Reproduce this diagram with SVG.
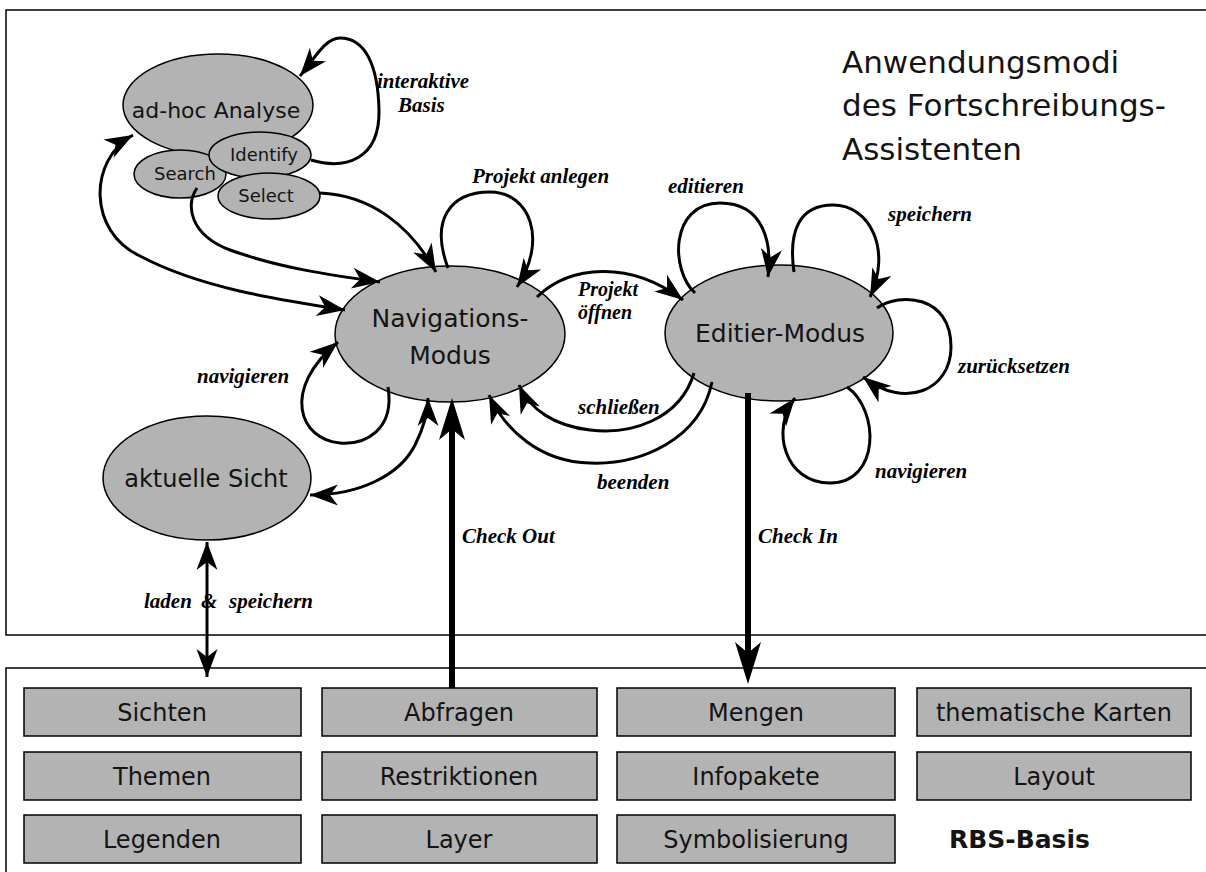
<svg xmlns="http://www.w3.org/2000/svg" width="1206" height="872" viewBox="0 0 1206 872">
<style>
.frame{fill:#fff;stroke:#000;stroke-width:1.5}
.ell{fill:#b3b3b3;stroke:#000;stroke-width:1.5}
.box{fill:#b3b3b3;stroke:#000;stroke-width:1.5}
.sans{font-family:"DejaVu Sans","Liberation Sans",sans-serif;fill:#141414}
.mid{text-anchor:middle}
.lbl{font-family:"Liberation Serif","Times New Roman",serif;font-weight:bold;font-style:italic;font-size:21px;fill:#000}
.conn{fill:none;stroke:#000;stroke-width:3}
.thick{stroke-width:6}
</style>
<defs>
<marker id="ah" viewBox="-30 -12 32 24" refX="0" refY="0" markerWidth="32" markerHeight="24" markerUnits="userSpaceOnUse" orient="auto-start-reverse">
<path d="M0,0 L-28,-10.5 L-20,0 L-28,10.5 Z" fill="#000"/>
</marker>
<marker id="ahBig" viewBox="-44 -15 46 30" refX="-28" refY="0" markerWidth="46" markerHeight="30" markerUnits="userSpaceOnUse" orient="auto">
<path d="M0,0 L-42,-13 L-31,0 L-42,13 Z" fill="#000"/>
</marker>
</defs>
<rect width="1206" height="872" fill="#fff"/>
<g id="frames">
<rect class="frame" x="6" y="10" width="1210" height="625"/>
<rect class="frame" x="6" y="668" width="1210" height="220"/>
</g>
<g id="title">
<text class="sans" font-size="31" x="842" y="73">Anwendungsmodi</text>
<text class="sans" font-size="31" x="842" y="116">des Fortschreibungs-</text>
<text class="sans" font-size="31" x="842" y="160">Assistenten</text>
</g>
<g id="adhoc">
<ellipse class="ell" cx="218" cy="105" rx="95" ry="51"/>
<text class="sans mid" font-size="22" x="216" y="118">ad-hoc Analyse</text>
</g>
<g id="search">
<ellipse class="ell" cx="180" cy="174" rx="46" ry="24"/>
<text class="sans mid" font-size="18" x="185" y="180">Search</text>
</g>
<g id="identify">
<ellipse class="ell" cx="260" cy="155" rx="51" ry="23"/>
<text class="sans mid" font-size="18" x="264" y="161">Identify</text>
</g>
<g id="select">
<ellipse class="ell" cx="269" cy="196" rx="51" ry="23"/>
<text class="sans mid" font-size="18" x="266" y="202">Select</text>
</g>
<g id="navigation">
<ellipse class="ell" cx="450" cy="334" rx="115" ry="68"/>
<text class="sans mid" font-size="25" x="450" y="327">Navigations-</text>
<text class="sans mid" font-size="25" x="450" y="364">Modus</text>
</g>
<g id="editier">
<ellipse class="ell" cx="779" cy="333" rx="114" ry="68"/>
<text class="sans mid" font-size="25" x="780" y="342">Editier-Modus</text>
</g>
<g id="aktuelle">
<ellipse class="ell" cx="207" cy="478" rx="104" ry="62"/>
<text class="sans mid" font-size="24" x="206" y="487">aktuelle Sicht</text>
</g>
<g id="connectors">
<path class="conn" d="M311,160 C345,170 380,160 379,110 C378,65 365,38 340,38 C325,38 315,58 300,76" marker-end="url(#ah)"/>
<path class="conn" d="M133,135 C88,160 88,232 140,256 C200,288 280,300 345,310" marker-start="url(#ah)" marker-end="url(#ah)"/>
<path class="conn" d="M197,188 C185,205 190,235 230,250 C280,268 330,275 380,282" marker-end="url(#ah)"/>
<path class="conn" d="M320,193 C370,195 410,225 436,272" marker-end="url(#ah)"/>
<path class="conn" d="M448,268 C430,220 450,192 490,192 C530,192 548,240 517,287" marker-end="url(#ah)"/>
<path class="conn" d="M537,297 C570,265 630,260 683,300" marker-end="url(#ah)"/>
<path class="conn" d="M695,293 C670,270 670,203 720,203 C765,203 772,245 768,277" marker-end="url(#ah)"/>
<path class="conn" d="M794,272 C788,230 800,205 833,205 C870,205 892,250 870,297" marker-end="url(#ah)"/>
<path class="conn" d="M877,308 C900,292 951,295 951,347 C951,390 905,410 863,377" marker-end="url(#ah)"/>
<path class="conn" d="M847,387 C880,410 880,483 830,483 C785,483 770,430 795,398" marker-end="url(#ah)"/>
<path class="conn" d="M388,387 C395,430 365,445 340,443 C300,440 280,390 338,342" marker-end="url(#ah)"/>
<path class="conn" d="M310,495 C360,495 400,475 415,445 C425,425 428,410 428,398" marker-start="url(#ah)" marker-end="url(#ah)"/>
<path class="conn" d="M694,373 C680,420 630,435 590,430 C555,426 530,410 519,385" marker-end="url(#ah)"/>
<path class="conn" d="M712,382 C700,440 640,465 590,463 C540,462 505,430 489,395" marker-end="url(#ah)"/>
<path class="conn" d="M207,542 L207,677" marker-start="url(#ah)" marker-end="url(#ah)"/>
<path class="conn thick" d="M452,688 L452,426" marker-end="url(#ahBig)"/>
<path class="conn thick" d="M748,393 L748,656" marker-end="url(#ahBig)"/>
</g>
<g id="labels">
<text class="lbl" x="377" y="88">interaktive</text>
<text class="lbl" x="398" y="112">Basis</text>
<text class="lbl" x="472" y="183">Projekt anlegen</text>
<text class="lbl" x="668" y="193">editieren</text>
<text class="lbl" x="888" y="221">speichern</text>
<text class="lbl" x="578" y="296" fill="#1c1c3c" style="font-size:20px">Projekt</text>
<text class="lbl" x="578" y="319" fill="#1c1c3c" style="font-size:20px">öffnen</text>
<text class="lbl" x="958" y="373">zurücksetzen</text>
<text class="lbl" x="197" y="383">navigieren</text>
<text class="lbl" x="578" y="414">schließen</text>
<text class="lbl" x="875" y="478">navigieren</text>
<text class="lbl" x="597" y="489">beenden</text>
<text class="lbl" x="462" y="543">Check Out</text>
<text class="lbl" x="758" y="543">Check In</text>
<text class="lbl" y="608"><tspan x="144">laden </tspan><tspan x="201">&amp; </tspan><tspan x="229">speichern</tspan></text>
</g>
<g id="rbs-boxes">
<g id="box-sichten"><rect class="box" x="24" y="688" width="277" height="48"/><text class="sans mid" font-size="24" x="162" y="721">Sichten</text></g>
<g id="box-abfragen"><rect class="box" x="322" y="688" width="275" height="48"/><text class="sans mid" font-size="24" x="459" y="721">Abfragen</text></g>
<g id="box-mengen"><rect class="box" x="617" y="688" width="278" height="48"/><text class="sans mid" font-size="24" x="756" y="721">Mengen</text></g>
<g id="box-karten"><rect class="box" x="917" y="688" width="274" height="48"/><text class="sans mid" font-size="24" x="1054" y="721">thematische Karten</text></g>
<g id="box-themen"><rect class="box" x="24" y="752" width="277" height="48"/><text class="sans mid" font-size="24" x="162" y="785">Themen</text></g>
<g id="box-restriktionen"><rect class="box" x="322" y="752" width="275" height="48"/><text class="sans mid" font-size="24" x="459" y="785">Restriktionen</text></g>
<g id="box-infopakete"><rect class="box" x="617" y="752" width="278" height="48"/><text class="sans mid" font-size="24" x="756" y="785">Infopakete</text></g>
<g id="box-layout"><rect class="box" x="917" y="752" width="274" height="48"/><text class="sans mid" font-size="24" x="1054" y="785">Layout</text></g>
<g id="box-legenden"><rect class="box" x="24" y="815" width="277" height="48"/><text class="sans mid" font-size="24" x="162" y="848">Legenden</text></g>
<g id="box-layer"><rect class="box" x="322" y="815" width="275" height="48"/><text class="sans mid" font-size="24" x="459" y="848">Layer</text></g>
<g id="box-symbolisierung"><rect class="box" x="617" y="815" width="278" height="48"/><text class="sans mid" font-size="24" x="756" y="848">Symbolisierung</text></g>
<text id="rbs-basis" class="sans" font-size="25" font-weight="bold" x="949" y="848">RBS-Basis</text>
</g>
</svg>
